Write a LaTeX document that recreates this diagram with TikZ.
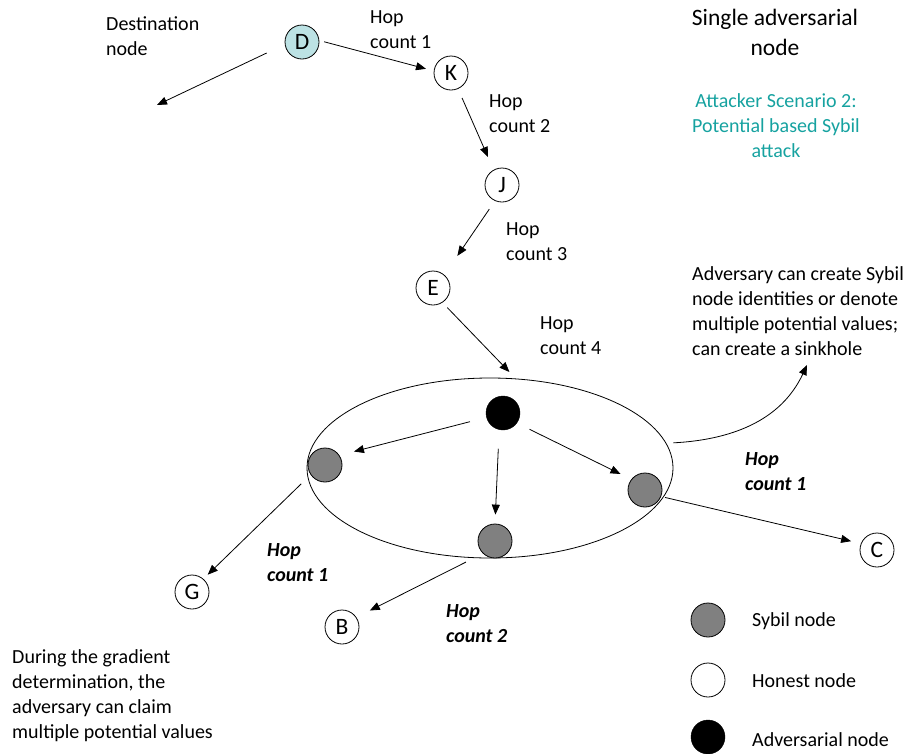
\documentclass[tikz,border=0pt]{standalone}
\usepackage{fontspec}
\setmainfont{Carlito}
\usetikzlibrary{arrows.meta,shapes.geometric}
\definecolor{destfill}{HTML}{BCE2E4}
\definecolor{scenteal}{HTML}{16A2A0}
\definecolor{sybilgray}{HTML}{808080}
\newcommand{\bodyfont}{\fontsize{20}{25}\selectfont}
\newcommand{\letterfont}{\fontsize{23.5}{28}\selectfont}
\newcommand{\titlefont}{\fontsize{23.5}{30}\selectfont}
\begin{document}
\begin{tikzpicture}[x=1pt,y=-1pt,
  honest/.style={circle,draw,line width=0.8pt,minimum size=34pt,inner sep=0pt,font=\letterfont},
  sybil/.style={circle,draw,line width=0.8pt,fill=sybilgray,minimum size=34pt,inner sep=0pt},
  adversary/.style={circle,draw,fill=black,minimum size=34pt,inner sep=0pt},
  arr/.style={-{Triangle[length=10pt,width=8pt]},line width=0.8pt},
  note/.style={align=left,anchor=north west,inner sep=0pt,font=\bodyfont},
  hopbold/.style={align=left,anchor=north west,inner sep=0pt,font=\bodyfont\bfseries\itshape},
  legendtext/.style={anchor=west,inner sep=0pt,font=\bodyfont}]
\useasboundingbox (0,0) rectangle (919,753);

% route of honest nodes
\node[honest,fill=destfill] (D) at (302,42) {D};
\node[honest] (K) at (451,73) {K};
\node[honest] (J) at (502,185) {J};
\node[honest] (E) at (433,288) {E};

% adversary region
\node[ellipse,draw,line width=0.8pt,minimum width=366pt,minimum height=180pt,inner sep=0pt] (ell) at (490,468) {};
\node[adversary] (adv) at (503,413) {};
\node[sybil] (sl) at (325,465) {};
\node[sybil] (sb) at (495,541) {};
\node[sybil] (sr) at (645,490) {};

% honest neighbours outside
\node[honest] (G) at (192,592) {G};
\node[honest] (B) at (342,627) {B};
\node[honest] (C) at (877,550) {C};

\coordinate (away) at (157,105);
\coordinate (sinktip) at (807,365);

% hop arrows
\draw[arr,shorten <=5pt,shorten >=8pt] (D.5) -- (K.173);
\draw[arr,shorten <=20pt] (D.188) -- (away);
\draw[arr,shorten <=10pt,shorten >=14pt] (K.-66) -- (J.119);
\draw[arr,shorten <=10pt,shorten >=23pt] (J.-114) -- (E.49);
\draw[arr,shorten <=7pt,shorten >=9pt] (E.-57) -- (ell.74);

% adversary to its Sybil identities
\draw[arr,shorten <=17pt,shorten >=15pt] (adv.195) -- (sl.34);
\draw[arr,shorten <=19pt,shorten >=9pt] (adv.-103) -- (sb.90);
\draw[arr,shorten <=14pt,shorten >=12pt] (adv.-36) -- (sr.142);

% Sybil identities to honest nodes
\draw[arr,shorten <=13pt,shorten >=6pt] (sl.214) -- (G.49);
\draw[arr,shorten <=19pt,shorten >=15pt] (sb.226) -- (B.34);
\draw[arr,shorten <=4pt,shorten >=10pt] (sr.-22) -- (C.158);

% pointer to the explanation
\draw[arr,shorten <=7pt] (ell.8) to[out=3,in=-115] (sinktip);

% labels
\node[note] (t1) at (106,16) {Destination\\node};
\node[note] (h1) at (370,10) {Hop\\count 1};
\node[note] (h2) at (489,94) {Hop\\count 2};
\node[note] (h3) at (506,222) {Hop\\count 3};
\node[note] (h4) at (540,316) {Hop\\count 4};
\node[align=center,anchor=north,inner sep=0pt,font=\titlefont] (ttl) at (775,9) {Single adversarial\\node};
\node[align=center,anchor=north,inner sep=0pt,font=\bodyfont,text=scenteal] (scen) at (776,93) {Attacker Scenario 2:\\Potential based Sybil\\attack};
\node[note] (expl) at (692,266) {Adversary can create Sybil\\node identities or denote\\multiple potential values;\\can create a sinkhole};
\node[hopbold] (hb1) at (745,452) {Hop\\count 1};
\node[hopbold] (hb2) at (267,543) {Hop\\count 1};
\node[hopbold] (hb3) at (446,604) {Hop\\count 2};
\node[note] (grad) at (12,649) {During the gradient\\determination, the\\adversary can claim\\multiple potential values};

% legend
\node[sybil] (ls) at (708,620) {};
\node[honest] (lh) at (708,680) {};
\node[adversary] (la) at (708,737) {};
\node[legendtext] (lst) at (752,621) {Sybil node};
\node[legendtext] (lht) at (752,681) {Honest node};
\node[legendtext] (lat) at (752,740) {Adversarial node};
\end{tikzpicture}
\end{document}
